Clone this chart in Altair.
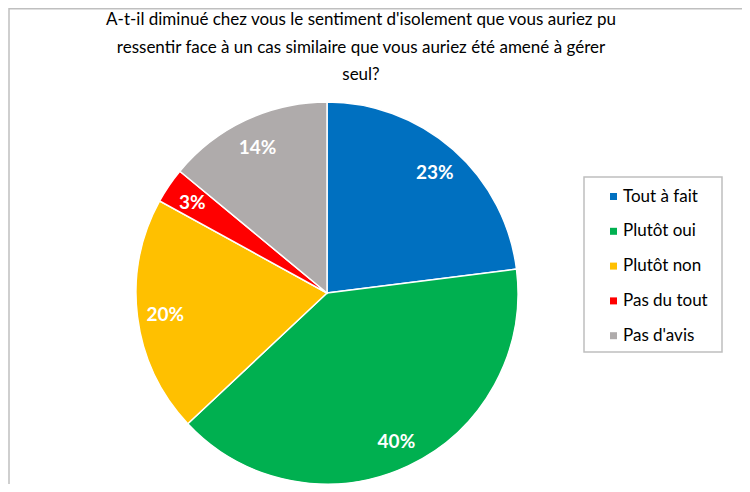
import altair as alt
import pandas as pd

categories = ["Tout à fait", "Plutôt oui", "Plutôt non", "Pas du tout", "Pas d'avis"]
values = [23, 40, 20, 3, 14]
colors = ["#0070C0", "#00B050", "#FFC000", "#FF0000", "#AFABAB"]
title_lines = [
    "A-t-il diminué chez vous le sentiment d'isolement que vous auriez pu",
    "ressentir face à un cas similaire que vous auriez été amené à gérer",
    "seul?",
]

FONT = "Lato"
df = pd.DataFrame({
    "cat": categories,
    "val": values,
    "idx": list(range(len(categories))),
    "lbl": [f"{v}%" for v in values],
})

CX, CY, R = 319, 285, 191

base = alt.Chart(df).encode(
    theta=alt.Theta("val:Q", stack=True),
    order=alt.Order("idx:Q"),
)

pie = base.mark_arc(radius=R, stroke="white", strokeWidth=1.5).encode(
    x=alt.value(CX), y=alt.value(CY),
    color=alt.Color(
        "cat:N",
        scale=alt.Scale(domain=categories, range=colors),
        sort=categories,
        legend=alt.Legend(
            title=None, orient="none", legendX=597, legendY=180,
            symbolType="square", symbolSize=49, symbolStrokeWidth=0,
            labelFont=FONT, labelFontSize=17, labelColor="#000000",
            labelOffset=1, rowPadding=16.8, padding=0,
        ),
    ),
)

labels = base.mark_text(
    radius=163, dy=2, color="white", fontWeight="bold", fontSize=19, font=FONT,
).encode(x=alt.value(CX), y=alt.value(CY), text="lbl:N")

tdf = pd.DataFrame({"t": title_lines, "i": [0, 1, 2]})
title = alt.Chart(tdf).mark_text(font=FONT, fontSize=17, color="#000000").encode(
    x=alt.value(353),
    y=alt.Y("i:Q", axis=None, scale=alt.Scale(domain=[0, 2], range=[12, 67])),
    text="t:N",
)

box = alt.Chart(pd.DataFrame({"a": [0]})).mark_rect(
    fill="white", stroke="#BFBFBF", strokeWidth=1.5
).encode(x=alt.value(576), x2=alt.value(714), y=alt.value(169), y2=alt.value(344))

frame_top = alt.Chart(pd.DataFrame({"a": [0]})).mark_rule(color="#BFBFBF", strokeWidth=1.5).encode(
    x=alt.value(1), x2=alt.value(734), y=alt.value(0.75))
frame_left = alt.Chart(pd.DataFrame({"a": [0]})).mark_rule(color="#BFBFBF", strokeWidth=1.5).encode(
    x=alt.value(1), y=alt.value(0), y2=alt.value(476))

chart = alt.layer(frame_top, frame_left, box, pie, labels, title).properties(
    width=734, height=476, autosize=alt.AutoSizeParams(type="none"), padding=0,
).configure_view(stroke=None).resolve_scale(y="independent")

chart.save("out.html", embed_options={"renderer": "svg", "actions": False})
